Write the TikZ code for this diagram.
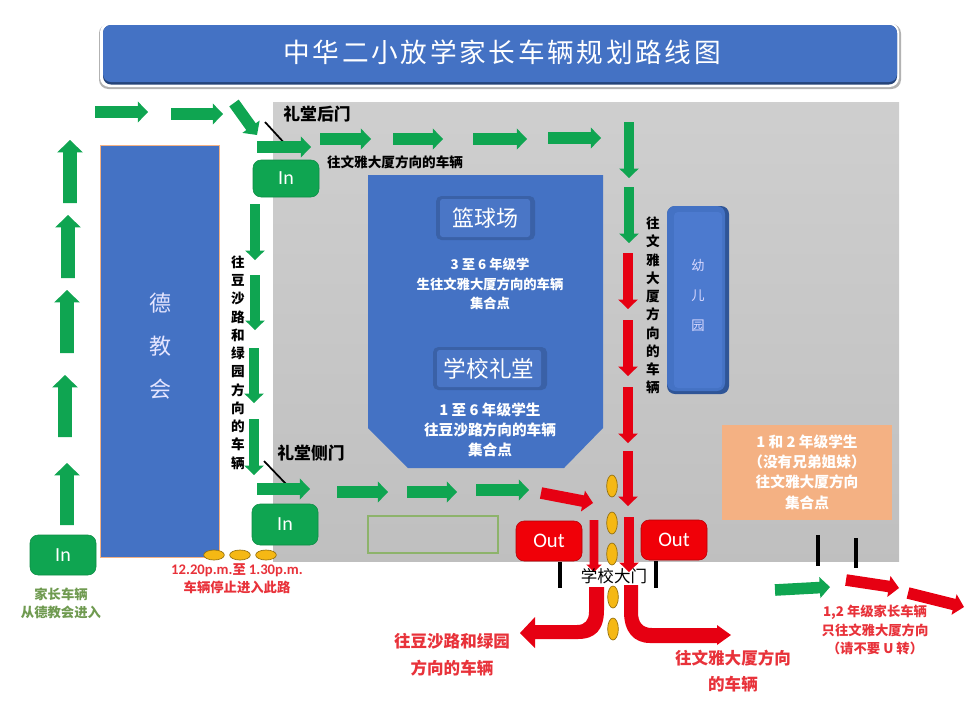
\documentclass[tikz,border=0pt]{standalone}
\usepackage{fontspec}
\setmainfont{Noto Sans CJK SC}
\newfontfamily\latinf{Carlito}
\newfontfamily\titlef[LetterSpace=10]{Noto Sans CJK SC}
\usetikzlibrary{shapes.arrows,shapes.geometric}
\definecolor{bluemain}{HTML}{4472C4}
\definecolor{bluedark}{HTML}{2F5597}
\definecolor{bluelight}{HTML}{4C7ACF}
\definecolor{arrgreen}{HTML}{0FA551}
\definecolor{arrred}{HTML}{E60012}
\definecolor{outred}{HTML}{F00008}
\definecolor{peach}{HTML}{F4B183}
\definecolor{txtred}{HTML}{E8323A}
\definecolor{txtgreen}{HTML}{6F9A50}
\definecolor{oval}{HTML}{F5B814}
\definecolor{boxgreen}{HTML}{8DB36B}
\tikzset{
  x=0.75pt,y=-0.75pt,
  blockarrow/.style={single arrow,inner sep=0pt,outer sep=0pt,single arrow tip angle=92,anchor=tail,draw=none},
  big/.style={blockarrow,minimum width=18.8pt,single arrow head extend=4.5pt,execute at begin node={\rule{0pt}{9.8pt}}},
  mid/.style={blockarrow,minimum width=15.5pt,single arrow head extend=3.6pt,execute at begin node={\rule{0pt}{8.3pt}}},
  slim/.style={blockarrow,minimum width=14.3pt,single arrow head extend=3.75pt,execute at begin node={\rule{0pt}{6.8pt}}},
  tiny/.style={blockarrow,minimum width=11pt,single arrow head extend=2.4pt,execute at begin node={\rule{0pt}{6.2pt}}},
  gn/.style={fill=arrgreen},
  rd/.style={fill=arrred},
  inbtn/.style={draw=arrgreen!85!black,line width=.4pt,fill=arrgreen,rounded corners=6pt,text=white,font=\latinf\fontsize{15}{18}\selectfont},
  outbtn/.style={draw=outred!75!black,line width=.4pt,fill=outred,rounded corners=6pt,text=white,font=\latinf\fontsize{15.5}{18}\selectfont},
  hoval/.style={ellipse,draw=oval!60!black,line width=.5pt,fill=oval,minimum width=15.5pt,minimum height=7.5pt,inner sep=0pt},
  voval/.style={ellipse,draw=oval!60!black,line width=.5pt,fill=oval,minimum width=8pt,minimum height=16.5pt,inner sep=0pt},
  post/.style={black,line width=3.4pt},
  wtxt/.style={text=white,align=center,inner sep=0pt,font=\bfseries\fontsize{10}{14.4}\selectfont},
  btxt/.style={text=black,align=center,inner sep=0pt,font=\bfseries\fontsize{10.2}{13.7}\selectfont},
  rtxt/.style={text=txtred,align=center,inner sep=0pt,font=\bfseries\fontsize{10}{13.8}\selectfont},
}
\newcommand{\bk}[6]{%
  \pgfmathsetmacro{\bklen}{veclen(#5-#3,#6-#4)*0.75}%
  \pgfmathsetmacro{\bkang}{atan2(#4-#6,#5-#3)}%
  \node[#2,rotate=\bkang,minimum height=\bklen pt] (#1) at (#3,#4) {};}
\newcommand{\rbox}[7]{% name, x1,y1,x2,y2,style, text
  \node[#6,minimum width={(#4-#2)*0.75pt},minimum height={(#5-#3)*0.75pt},inner sep=0pt] (#1) at ({(#2+#4)/2},{(#3+#5)/2}) {#7};}
\newcommand{\lowered}[1]{\raisebox{-1.2pt}{#1}}
\begin{document}
\begin{tikzpicture}
\useasboundingbox (0,0) rectangle (980,715);
% title
\fill[rounded corners=7pt,black!30] (99,24) rectangle (901,89);
\fill[rounded corners=7pt,white] (100,23) rectangle (899,87);
\fill[rounded corners=6pt,bluedark!80!black] (103,25) rectangle (897,84.5);
\fill[rounded corners=6pt,bluemain] (103,25) rectangle (897,82);
\node[text=white,inner sep=0pt,font=\titlef\fontsize{20}{24}\selectfont] (title) at (502,52) {中华二小放学家长车辆规划路线图};
% yard
\shade[top color=black!19,bottom color=black!25] (273,102) rectangle (899,561);
% church
\rbox{church}{100}{145}{219}{557}{fill=bluemain,draw=peach,line width=.7pt}{}
\node[text=white!90!blue,align=center,inner sep=0pt,font=\fontsize{16.5}{32}\selectfont] (churchtxt) at (160,346) {德\\教\\会};
% court
\fill[bluemain] (368,175) -- (603,175) -- (603,428) -- (564,468) -- (408,468) -- (368,428) -- cycle;
\rbox{courtA}{436}{196}{535}{240}{fill=bluemain!85!black,rounded corners=4pt}{}
\rbox{courtAi}{440}{199}{530}{237}{fill=bluemain!97!white,rounded corners=2pt,text=white,font=\fontsize{16.5}{20}\selectfont}{篮球场}
\rbox{hallA}{433}{347}{547}{390}{fill=bluemain!85!black,rounded corners=4pt}{}
\rbox{hallAi}{437}{350}{541}{387}{fill=bluemain!97!white,rounded corners=2pt,text=white,font=\fontsize{17}{20}\selectfont}{学校礼堂}
\node[wtxt] (courttxt) at (490,284) {3 至 6 年级学\\生往文雅大厦方向的车辆\\集合点};
\node[wtxt,font=\bfseries\fontsize{11}{14.9}\selectfont] (halltxt) at (490,430) {1 至 6 年级学生\\往豆沙路方向的车辆\\集合点};
% kindergarten
\rbox{kg}{667}{206}{729}{394}{fill=bluedark,rounded corners=6pt}{}
\rbox{kgl}{667}{206}{725}{391}{fill=bluemain,rounded corners=6pt}{}
\rbox{kgi}{674}{212}{722}{388}{fill=bluelight,rounded corners=3pt}{}
\node[text=white!85!blue,align=center,inner sep=0pt,font=\fontsize{10}{22.5}\selectfont] (kgtxt) at (698,295) {幼\\儿\\园};
% orange
\rbox{orange}{722}{425}{892}{520}{fill=peach}{}
\node[wtxt,font=\bfseries\fontsize{11}{15.3}\selectfont] (orangetxt) at (807,472) {1 和 2 年级学生\\（没有兄弟姐妹）\\往文雅大厦方向\\集合点};
% empty rect
\rbox{emptybox}{368}{516}{498}{553}{draw=boxgreen,line width=.8pt}{}
% posts
\coordinate (pa1) at (265,122); \coordinate (pa2) at (287,146);
\coordinate (pb1) at (264,461); \coordinate (pb2) at (287,485);
\draw[black,line width=1.3pt] (pa1) -- (pa2);
\draw[black,line width=1.3pt] (pb1) -- (pb2);
\coordinate (g1a) at (560,562); \coordinate (g1b) at (560,588);
\coordinate (g2a) at (656,561); \coordinate (g2b) at (656,588);
\coordinate (g3a) at (818,535); \coordinate (g3b) at (818,566);
\coordinate (g4a) at (856,538); \coordinate (g4b) at (856,568);
\draw[post] (g1a) -- (g1b); \draw[post] (g2a) -- (g2b);
\draw[post] (g3a) -- (g3b); \draw[post] (g4a) -- (g4b);
% buttons
\rbox{inA}{253}{160}{319}{197}{inbtn}{\lowered{In}}
\rbox{inB}{252}{504}{318}{545}{inbtn}{\lowered{In}}
\rbox{inC}{30}{535}{96}{575}{inbtn}{\lowered{In}}
\rbox{outA}{516}{521}{582}{561}{outbtn}{\lowered{Out}}
\rbox{outB}{641}{520}{707}{560}{outbtn}{\lowered{Out}}
% green arrows
\bk{u1}{big,gn}{67}{525}{67}{463}
\bk{u2}{big,gn}{65}{437}{65}{375}
\bk{u3}{big,gn}{67}{353}{67}{290}
\bk{u4}{big,gn}{68}{278}{68}{215}
\bk{u5}{big,gn}{70}{203}{70}{140}
\bk{t1}{mid,gn}{95}{112}{148}{112}
\bk{t2}{mid,gn}{171}{114}{223}{114}
\bk{t3}{mid,gn}{234}{103}{257}{135}
\bk{t4}{mid,gn}{257}{147}{311}{147}
\bk{t5}{mid,gn}{320}{139}{371}{139}
\bk{t6}{mid,gn}{393}{139}{443}{139}
\bk{t7}{mid,gn}{473}{139}{527}{139}
\bk{t8}{mid,gn}{548}{138}{601}{138}
\bk{d1}{slim,gn}{629}{122}{629}{178}
\bk{d2}{slim,gn}{629}{187}{629}{243}
\bk{l1}{slim,gn}{255}{204}{255}{260}
\bk{l2}{slim,gn}{255}{275}{255}{330}
\bk{l3}{slim,gn}{254}{348}{254}{403}
\bk{l4}{slim,gn}{254}{419}{254}{475}
\bk{b1}{mid,gn}{257}{489}{310}{489}
\bk{b2}{mid,gn}{337}{492}{388}{492}
\bk{b3}{mid,gn}{407}{492}{457}{492}
\bk{b4}{mid,gn}{476}{490}{529}{490}
\bk{o1}{mid,gn}{775}{590}{830}{587}
% red arrows
\bk{r1}{slim,rd}{628}{253}{628}{309}
\bk{r2}{slim,rd}{628}{320}{628}{376}
\bk{r3}{slim,rd}{628}{387}{628}{443}
\bk{r4}{slim,rd}{628}{451}{628}{506}
\bk{r5}{slim,rd}{629}{517}{629}{572}
\bk{r6}{tiny,rd}{594}{520}{594}{572}
\bk{r7}{mid,rd}{541}{493}{593}{503}
\bk{o2}{mid,rd}{846}{580}{899}{588}
\bk{o3}{mid,rd}{908}{593}{964}{607}
% ovals
\node[hoval] (h1) at (214,555) {};
\node[hoval] (h2) at (240,555) {};
\node[hoval] (h3) at (266,555) {};
\node[voval] (v1) at (612,486) {};
\node[voval] (v2) at (612,523) {};
\node[voval] (v3) at (612,554) {};
\node[voval] (v4) at (613,597) {};
\node[voval] (v5) at (613,629) {};
% bent exits
\fill[arrred] (589,587) -- (604,587) -- (604,610) .. controls (604,630) and (595,639) .. (578,639)
  -- (535,639) -- (535,648) -- (520,633) -- (535,617) -- (535,625) -- (577,625)
  .. controls (585,625) and (589,620) .. (589,612) -- cycle;
\fill[arrred] (624,585) -- (638,585) -- (638,612) .. controls (638,622) and (642,628) .. (652,628)
  -- (717,628) -- (717,625) -- (731,635) -- (717,645) -- (717,643) -- (650,643)
  .. controls (634,643) and (624,632) .. (624,612) -- cycle;
% labels
\node[text=black,inner sep=0pt,font=\bfseries\fontsize{12.6}{13}\selectfont] (backdoor) at (317,114) {礼堂后门};
\node[btxt] (toWenya) at (395,162) {往文雅大厦方向的车辆};
\node[text=black,inner sep=0pt,font=\bfseries\fontsize{12.6}{13}\selectfont] (sidedoor) at (311,453) {礼堂侧门};
\node[btxt] (vleft) at (238,362.5) {往\\豆\\沙\\路\\和\\绿\\园\\方\\向\\的\\车\\辆};
\node[btxt] (vright) at (653,305.5) {往\\文\\雅\\大\\厦\\方\\向\\的\\车\\辆};
\node[text=black,inner sep=0pt,font=\fontsize{12.4}{14}\selectfont] (gate) at (614,576) {学校大门};
\node[rtxt] (stop) at (237,579) {{\latinf\fontsize{11}{13.8}\selectfont 12.20p.m.}至 {\latinf\fontsize{11}{13.8}\selectfont 1.30p.m.}\\车辆停止进入此路};
\node[rtxt,text=txtgreen] (from) at (61,603.5) {家长车辆\\从德教会进入};
\node[rtxt,font=\bfseries\fontsize{12.4}{20}\selectfont] (toDousha) at (452,654.5) {往豆沙路和绿园\\方向的车辆};
\node[rtxt,font=\bfseries\fontsize{12.4}{19.5}\selectfont] (toWenya2) at (733,671) {往文雅大厦方向\\的车辆};
\node[rtxt] (grade12) at (875,630) {1,2 年级家长车辆\\只往文雅大厦方向\\（请不要 U 转）};
\end{tikzpicture}
\end{document}
